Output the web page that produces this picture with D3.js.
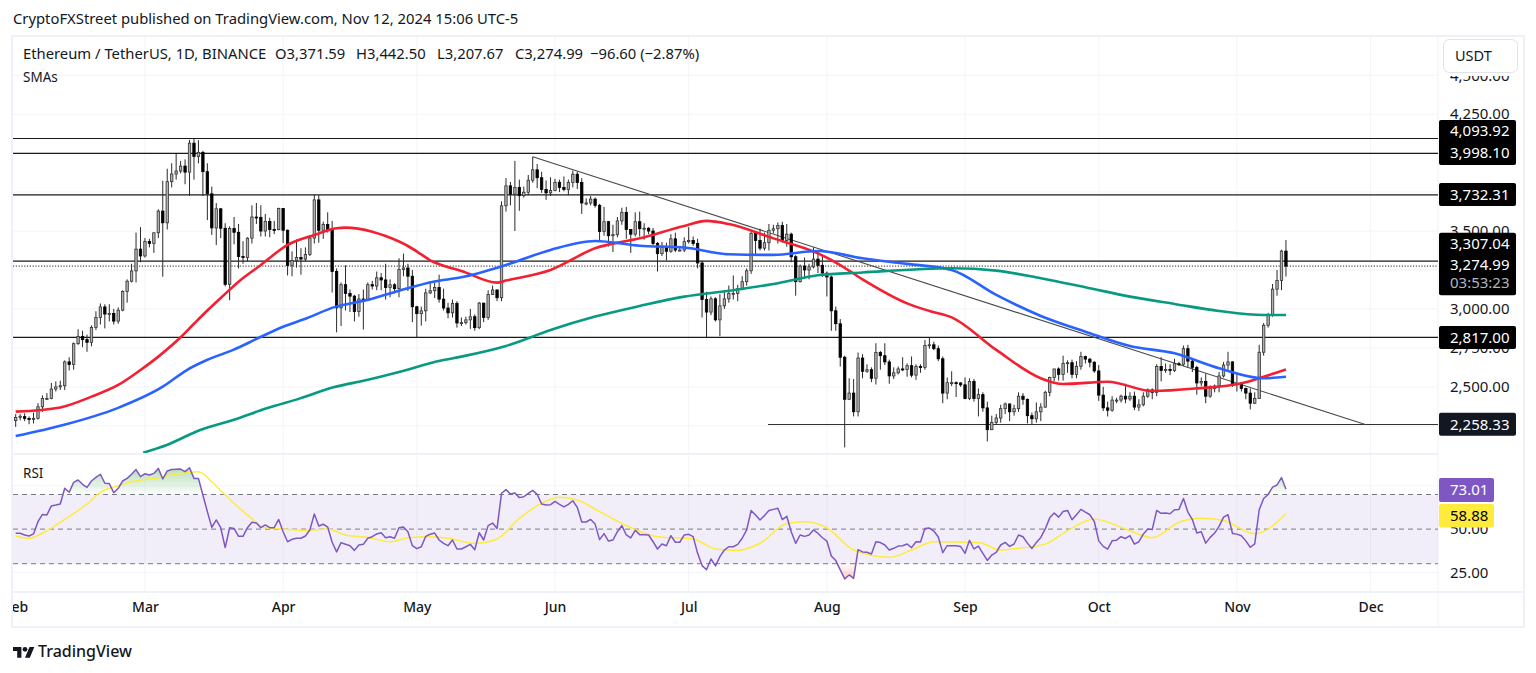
<!DOCTYPE html>
<html><head><meta charset="utf-8">
<style>html,body{margin:0;padding:0;background:#fff;overflow:hidden}svg{display:block}
text{font-family:"Noto Sans",sans-serif;fill:#131722}</style>
<script src="https://cdn.jsdelivr.net/npm/d3@7/dist/d3.min.js"></script></head><body>
<svg id="c" width="1536" height="673"></svg>
<script>
const months=["Feb","Mar","Apr","May","Jun","Jul","Aug","Sep","Oct","Nov","Dec"];
const opens=[2283,2304,2309,2297,2290,2298,2372,2425,2425,2486,2500,2507,2660,2643,2777,2824,2803,2786,2881,2945,3013,2967,2971,2922,2992,3112,3178,3244,3384,
3340,3433,3421,3489,3628,3553,3817,3866,3885,3917,3878,4064,3979,4005,3881,3739,3520,3643,3518,3158,3516,3492,3336,3330,3454,3590,3588,3500,3561,3510,3509,
3645,3505,3280,3311,3330,3320,3350,3455,3700,3505,3542,3505,3240,3007,3156,3100,3082,2984,3064,3057,3156,3147,3200,3186,3137,3155,3130,3253,3263,3210,
3014,2970,2988,3103,3117,3137,3063,3006,2975,3036,2910,2912,2930,2950,2880,3037,2945,3093,3122,3072,3662,3790,3737,3780,3727,3749,3826,3893,3842,3767,3745,
3760,3813,3780,3767,3811,3865,3811,3680,3680,3705,3665,3497,3560,3470,3477,3565,3620,3510,3480,3560,3515,3518,3500,3420,3355,3395,3370,3450,3378,3378,
3432,3440,3420,3295,3060,2980,3065,2930,3020,3065,3100,3100,3130,3175,3245,3485,3440,3390,3425,3505,3515,3535,3440,3480,3335,3175,3275,3250,3270,3320,3280,
3230,3205,2988,2905,2690,2420,2460,2340,2685,2600,2610,2555,2720,2700,2660,2570,2590,2615,2612,2636,2575,2630,2625,2765,2770,2745,2680,2460,2527,2527,2525,
2513,2425,2535,2425,2450,2365,2225,2272,2300,2360,2390,2340,2360,2440,2420,2315,2295,2340,2370,2465,2560,2615,2580,2650,2655,2580,2632,2695,2678,2658,
2602,2447,2365,2350,2415,2415,2440,2422,2440,2370,2385,2440,2480,2465,2630,2605,2612,2605,2648,2645,2745,2665,2625,2525,2535,2440,2490,2505,2570,2640,2660,
2520,2515,2490,2460,2395,2425,2722,2895,2962,3127,3183,3371.59];
const highs=[2325,2325,2330,2310,2335,2395,2445,2460,2525,2535,2540,2670,2690,2785,2870,2860,2835,2895,2985,3035,3030,3030,3000,3010,3120,3190,3290,3490,3525,
3455,3450,3490,3640,3823,3900,3935,3995,3950,3960,4085,4093,4083,4015,3935,3785,3680,3645,3550,3530,3590,3545,3435,3460,3665,3680,3665,3610,3585,3565,3650,
3645,3510,3370,3445,3390,3395,3475,3732,3730,3560,3620,3565,3260,3170,3280,3125,3090,3095,3125,3170,3180,3240,3230,3290,3190,3165,3325,3355,3290,3250,
3020,3015,3130,3170,3170,3220,3130,3040,3060,3050,2945,2950,3000,2965,3045,3040,3120,3150,3125,3690,3840,3815,3950,3830,3785,3860,3977,3930,3880,3825,3845,
3835,3830,3850,3830,3888,3880,3840,3710,3725,3715,3675,3655,3565,3540,3590,3650,3655,3510,3620,3625,3550,3525,3520,3430,3430,3425,3480,3490,3405,3460,
3525,3465,3450,3310,3110,3080,3075,3095,3120,3150,3215,3155,3210,3260,3495,3500,3515,3490,3545,3540,3555,3560,3545,3490,3345,3285,3330,3290,3395,3365,3350,
3240,3215,3015,2935,2700,2555,2550,2720,2710,2645,2625,2780,2730,2780,2675,2625,2630,2690,2650,2695,2645,2645,2800,2820,2790,2765,2695,2560,2600,2535,2530,
2560,2555,2550,2490,2465,2405,2315,2325,2385,2400,2395,2385,2465,2460,2425,2335,2400,2395,2475,2565,2615,2625,2700,2670,2675,2665,2725,2700,2685,2665,
2640,2500,2405,2440,2430,2450,2520,2465,2470,2420,2465,2490,2490,2645,2690,2650,2645,2680,2660,2765,2770,2680,2635,2560,2585,2510,2515,2595,2660,2725,2665,
2590,2520,2495,2490,2465,2770,2910,2975,3160,3250,3380,3442.5];
const lows=[2243,2285,2280,2260,2265,2290,2340,2420,2420,2470,2480,2480,2605,2610,2770,2755,2725,2760,2865,2900,2875,2920,2900,2905,2985,3040,3170,3170,3300,
3330,3395,3360,3455,3207,3510,3780,3830,3870,3800,3725,3830,3935,3725,3570,3475,3410,3455,3145,3056,3415,3260,3290,3305,3420,3545,3465,3465,3460,3480,3505,
3423,3215,3210,3265,3220,3305,3340,3420,3425,3450,3490,3105,2850,2890,2990,2980,2920,2950,2868,3050,3125,3120,3120,3060,3075,3100,3075,3210,3115,2915,
2817,2893,2920,3095,3070,3040,2990,2940,2945,2880,2890,2900,2872,2860,2870,2915,2930,3090,3050,3050,3625,3665,3500,3630,3715,3730,3810,3775,3745,3700,3725,
3755,3750,3755,3730,3780,3770,3610,3665,3665,3650,3435,3470,3400,3365,3460,3540,3450,3360,3465,3465,3445,3480,3410,3240,3340,3310,3360,3365,3370,3365,
3420,3405,3260,2945,2817,2960,2920,2825,3000,3040,3060,3050,3120,3150,3225,3350,3375,3375,3375,3485,3420,3425,3400,3300,3085,3170,3195,3190,3260,3230,3205,
3080,2860,2860,2630,2111,2415,2310,2310,2555,2590,2530,2515,2610,2640,2520,2550,2580,2600,2565,2560,2545,2590,2610,2745,2735,2665,2395,2420,2505,2435,2500,
2420,2415,2405,2310,2340,2150,2225,2255,2270,2325,2280,2315,2340,2385,2265,2260,2270,2280,2365,2440,2535,2540,2540,2590,2555,2555,2610,2650,2625,2590,
2410,2345,2310,2340,2395,2400,2395,2410,2350,2345,2375,2430,2420,2440,2535,2590,2575,2595,2635,2635,2625,2595,2450,2505,2395,2430,2465,2465,2560,2610,2500,
2470,2470,2420,2355,2390,2425,2700,2880,2950,3085,3120,3207.67];
const closes=[2304,2311,2297,2290,2298,2372,2425,2425,2486,2500,2507,2660,2643,2777,2824,2803,2786,2881,2945,3013,2967,2971,2922,2992,3112,3178,3244,3384,3340,
3433,3421,3489,3628,3553,3817,3866,3885,3917,3878,4064,3979,4005,3881,3739,3520,3643,3518,3158,3516,3492,3336,3330,3454,3590,3588,3500,3561,3510,3509,3645,
3505,3280,3311,3330,3320,3350,3455,3700,3505,3542,3505,3240,3007,3156,3100,3082,2984,3064,3057,3156,3147,3200,3186,3137,3155,3130,3253,3263,3210,3014,
2970,2988,3103,3117,3137,3063,3006,2975,3036,2910,2912,2930,2950,2880,3037,2945,3093,3122,3072,3662,3790,3737,3780,3727,3749,3826,3893,3842,3767,3745,3760,
3813,3780,3767,3811,3865,3811,3680,3680,3705,3665,3497,3560,3470,3477,3565,3620,3510,3480,3560,3515,3518,3500,3420,3355,3395,3370,3450,3378,3378,3432,
3440,3420,3295,3060,2980,3065,2930,3020,3065,3100,3100,3130,3175,3245,3485,3440,3390,3425,3505,3515,3535,3440,3480,3335,3175,3275,3250,3270,3320,3280,3230,
3205,2988,2905,2690,2420,2460,2340,2685,2600,2610,2555,2720,2700,2660,2570,2590,2615,2612,2636,2575,2630,2625,2765,2770,2745,2680,2460,2527,2527,2525,2513,
2425,2535,2425,2450,2365,2225,2272,2300,2360,2390,2340,2360,2440,2420,2315,2295,2340,2370,2465,2560,2615,2580,2650,2655,2580,2632,2695,2678,2658,2602,
2447,2365,2350,2415,2415,2440,2422,2440,2370,2385,2440,2480,2465,2630,2605,2612,2605,2648,2645,2745,2665,2625,2525,2535,2440,2490,2505,2570,2640,2660,2520,
2515,2490,2460,2395,2425,2722,2895,2962,3127,3183,3371,3274.99];
// moving averages read at selected days (day number counted from Feb 1)
const redDays=[0,10,17,23,28,32,37,40,43,46,50,55,61,67,72,74,80,83,88,91,93,95.5,100,108,110,120,130,140,150,155,160,170,180,185,190,200,205,210,220,230,235,245,255,265,275,280,285];
const redVals=[2341,2368,2437,2512,2608,2694,2818,2905,2990,3070,3175,3282,3411,3475,3518,3522,3496,3468,3404,3350,3312,3282,3244,3169,3182,3250,3389,3453,3533,3565,3545,3453,3357,3282,3190,3036,2987,2946,2737,2555,2518,2533,2473,2490,2523,2565,2612];
const blueDays=[0,10.7,22.7,33,38.4,42.9,48.8,54.8,60,65.3,71.3,78.8,86,93.7,100,110,120,130,140,150,160,170,180,190,200,210,220,230,240,250,260,270,280,285];
const blueVals=[2184,2255,2362,2501,2608,2672,2737,2818,2886,2940,3010,3057,3117,3175,3203,3282,3379,3436,3406,3394,3351,3347,3372,3325,3289,3250,3090,2955,2854,2762,2715,2619,2555,2565];
const greenDays=[28.6,33.9,41.4,48.8,56.3,63.8,71.3,78.8,86.2,95.2,100,110,120,130,140,150,160,170,180,190,210,220,230,240,250,260,270,280,285];
const greenVals=[2077,2127,2223,2287,2362,2426,2497,2544,2597,2668,2694,2762,2865,2951,3019,3079,3117,3160,3216,3234,3261,3246,3197,3139,3079,3032,2987,2961,2961];
const levels=[4093.92,3998.10,3732.31,3307.04,2817.00];
const supportLevel=2258.33, supportStartDay=168.8;
const trendDays=[116,302.8], trendVals=[3977,2258.33];
const lastPrice=3274.99;
const priceGrid=[4500,4250,4000,3750,3500,3250,3000,2750,2500,2250];
const priceLabels=[4500,4250,3500,3000,2750,2500];
const rsiGrid=[75,25];
const rsiLabels=[50,25];
const rsiBands=[70,50,30];
const rsiVals=[47.6,47.6,46.6,46,47.2,54.3,58.5,58.2,63.4,63.9,
64.5,73.6,71.3,77,78.4,75.9,74.1,77.8,79.9,81.7,
76.5,76.3,71,73.6,77.8,79.3,81.7,84.4,80.3,82,
81.3,82.2,85.1,79,83.6,84.4,84.6,84.7,83.2,85.5,79.3,
79.3,69.7,60.1,51,55.3,50.8,39.3,50.8,50.4,45.8,
45.8,50.8,53.9,53.5,50.8,52.4,50.8,50.8,55.6,48.5,
42.7,44.1,44.7,44.7,46,49.5,58.7,51.8,52.8,51.2,
42.4,36.8,42.2,41.2,40.4,37.7,40.8,41.2,44.7,45.6,
47.2,47.9,45,45.6,44.7,50.8,51.2,48.5,40.4,38.7,
39.8,45.8,47,47.7,43.7,41.8,40.4,43.7,38.5,38.5,
39.8,41.2,38.1,47.9,43.7,52,53.5,50.4,
70.7,72.8,70.3,70.9,68.2,68.7,70.7,72.4,70.1,64.5,
63.9,64.1,66,64.3,62.8,64.3,66.4,62.6,54.1,54.1,
55.6,52.9,43.9,47.4,43.1,43.7,48.5,52,46.6,44.9,
49.3,46.8,46.8,46.6,42.7,38.5,41.4,40.4,46.2,42.4,
42.4,46.6,47,45.6,36,28.9,26.5,32.7,28.7,34.1,
37.9,39.8,39.8,41.2,44.7,49.5,60.7,58.2,55.3,57.8,
60.7,61.4,62,55.5,57.4,48.5,41.8,46.6,45.8,46.6,
49.5,47.6,45,43.1,34.5,31.8,26.4,21.2,23.5,21.5,
38.1,36.8,36.6,35.6,42.7,42.2,40.8,37.9,38.9,40.2,
40.4,41.4,39.3,42.7,42.5,50.4,50.6,48.9,45.4,36.4,
40.4,40.4,40.4,40,36,43.5,38.5,40.2,36,31.9,
35,36.6,40.8,
42.3,40,41.4,46.6,45.6,41.9,38.8,42.3,45.2,50.1,
56.5,59.3,56.9,60.2,60.8,55.4,58.3,61.4,59.8,58.3,
54.4,43.2,40,38.4,43.2,43.6,45.6,44.6,46.2,41.3,
42.7,47.1,50.1,49.7,60.8,59.1,59.3,58.9,61.2,61.4,
67.7,59.8,55.5,47.7,48.5,41.9,45.2,47.7,51.6,56.9,
58.3,47.5,47.1,46.2,43.2,39.5,41.5,61.2,67.7,70,
74.3,75.5,79.8,73.01];
const rsiMaDays=[0,3,6,11,16,19,23,26,32,37,41,44,47,52,56,60,65,70,74,79,84,88,93,97,103,108,113,118,122,126,131,136,144,152,157,162,167,173,177,182,188,196,201,206,216,221,225,231,236,242,249,255,261,266,271,278,285];
const rsiMaVals=[46,44.7,47.6,55.6,64.5,71.3,75.1,77.4,79.7,82.2,83.2,77.4,69.7,58.2,50.8,50,49.3,50,46.6,45.2,42.7,45,45.6,44.7,41.8,44.3,56.2,64.9,68.4,66.8,60.1,53.3,45.6,44.3,38.5,37.7,41.8,53.3,54.3,50.8,37.9,33.7,37.9,42.7,42.3,37.9,38.9,41.3,49.1,55.9,50.1,45,54,56.3,55,47.3,58.88];

const headerText="CryptoFXStreet published on TradingView.com, Nov 12, 2024 15:06 UTC-5";
const legendSeg=[["Ethereum / TetherUS, 1D, BINANCE",23],["O3,371.59",275],["H3,442.50",356],["L3,207.67",437],["C3,274.99",515],["\u221296.60 (\u22122.87%)",590]];

const L=13,R=1438,MT=37,MB=453,RT=455,RB=592;
const day=i=>new Date(Date.UTC(2024,1,1)+i*864e5);
const x=d3.scaleUtc().domain([day(0),day(285)]).range([15.7,15.7+4.457*285]);
const y=d3.scaleLinear().domain([2258.33,4093.92]).range([424.5,138.5]);
const yr=d3.scaleLinear().domain([30,70]).range([563.7,494.5]);
const svg=d3.select("#c");
const defs=svg.append("defs");
defs.append("clipPath").attr("id","main").append("rect").attr("x",L).attr("y",MT).attr("width",R-L).attr("height",MB-MT);
defs.append("clipPath").attr("id","rsi").append("rect").attr("x",L).attr("y",RT).attr("width",R-L).attr("height",RB-RT);
defs.append("clipPath").attr("id","ob").append("rect").attr("x",L).attr("y",RT).attr("width",R-L).attr("height",yr(70)-RT);
defs.append("clipPath").attr("id","os").append("rect").attr("x",L).attr("y",yr(30)).attr("width",R-L).attr("height",RB-yr(30));
const g1=defs.append("linearGradient").attr("id","gOb").attr("gradientUnits","userSpaceOnUse").attr("x1",0).attr("x2",0).attr("y1",yr(86)).attr("y2",yr(70));
g1.append("stop").attr("offset",0).attr("stop-color","#4caf50").attr("stop-opacity",.42);
g1.append("stop").attr("offset",1).attr("stop-color","#4caf50").attr("stop-opacity",.02);
const g2=defs.append("linearGradient").attr("id","gOs").attr("gradientUnits","userSpaceOnUse").attr("x1",0).attr("x2",0).attr("y1",yr(30)).attr("y2",yr(20));
g2.append("stop").attr("offset",0).attr("stop-color","#f44336").attr("stop-opacity",.02);
g2.append("stop").attr("offset",1).attr("stop-color","#f44336").attr("stop-opacity",.32);

// frame
const grid="#f3f4f9", frame="#eff1f8";
const monthTicks=months.map((m,k)=>new Date(Date.UTC(2024,1+k,1)));
svg.append("rect").attr("x",12).attr("y",36).attr("width",1512).attr("height",591).attr("fill","#fff").attr("stroke",frame).attr("stroke-width",2);
// grid
svg.append("g").selectAll("line").data(monthTicks.slice(1)).join("line")
 .attr("x1",d=>x(d)).attr("x2",d=>x(d)).attr("y1",MT).attr("y2",RB).attr("stroke",grid);
svg.append("g").selectAll("line").data(priceGrid).join("line")
 .attr("x1",L).attr("x2",R).attr("y1",d=>y(d)).attr("y2",d=>y(d)).attr("stroke",grid);
svg.append("g").selectAll("line").data(rsiGrid).join("line")
 .attr("x1",L).attr("x2",R).attr("y1",d=>yr(d)).attr("y2",d=>yr(d)).attr("stroke",grid);
// separators
[[L,1438,MB+1,MB+1],[L,1524,RB,RB],[R,R,MT,627]].forEach(s=>svg.append("line").attr("x1",s[0]).attr("x2",s[1]).attr("y1",s[2]).attr("y2",s[3]).attr("stroke",frame).attr("stroke-width",s[0]===R?1:2));

// main pane
const main=svg.append("g").attr("clip-path","url(#main)");
main.selectAll("line.lev").data(levels).join("line").attr("class","lev")
 .attr("x1",L).attr("x2",R).attr("y1",d=>y(d)).attr("y2",d=>y(d)).attr("stroke","#1a1a1a").attr("stroke-width",1.2);
main.append("line").attr("x1",x(day(supportStartDay))).attr("x2",R).attr("y1",y(supportLevel)).attr("y2",y(supportLevel)).attr("stroke","#333").attr("stroke-width",1.1);
main.append("line").attr("x1",L).attr("x2",R).attr("y1",y(lastPrice)).attr("y2",y(lastPrice)).attr("stroke","#222").attr("stroke-dasharray","1.2 1.6");
const trend=d3.line().x((d,i)=>x(day(trendDays[i]))).y(d=>y(d));
main.append("path").attr("d",trend(trendVals)).attr("fill","none").attr("stroke","#4a4a4a").attr("stroke-width",1.1);
const idx=d3.range(closes.length);
const cg=main.append("g");
cg.selectAll("line").data(idx).join("line")
 .attr("x1",i=>x(day(i))).attr("x2",i=>x(day(i))).attr("y1",i=>y(highs[i])).attr("y2",i=>y(lows[i])).attr("stroke","#2a2a2a").attr("stroke-width",1);
cg.selectAll("rect").data(idx).join("rect")
 .attr("x",i=>x(day(i))-1.2).attr("width",2.4)
 .attr("y",i=>y(Math.max(opens[i],closes[i])))
 .attr("height",i=>Math.max(1,Math.abs(y(opens[i])-y(closes[i]))))
 .attr("fill",i=>closes[i]>=opens[i]?"#b0b0b0":"#000")
 .attr("stroke",i=>closes[i]>=opens[i]?"#333":"#000").attr("stroke-width",.8);
const curve=d3.curveMonotoneX;
[[redDays,redVals,"#f22030",2.6],[blueDays,blueVals,"#2962ff",2.6],[greenDays,greenVals,"#089981",2.6]].forEach(s=>{
 const ln=d3.line().x((d,i)=>x(day(s[0][i]))).y(d=>y(d)).curve(curve);
 main.append("path").attr("d",ln(s[1])).attr("fill","none").attr("stroke",s[2]).attr("stroke-width",s[3]).attr("stroke-linejoin","round");
});

// RSI pane
const rp=svg.append("g").attr("clip-path","url(#rsi)");
rp.append("rect").attr("x",L).attr("width",R-L).attr("y",yr(70)).attr("height",yr(30)-yr(70)).attr("fill","#7e57c2").attr("opacity",.1);
rp.selectAll("line").data(rsiBands).join("line").attr("x1",L).attr("x2",R).attr("y1",d=>yr(d)).attr("y2",d=>yr(d))
 .attr("stroke","#787b86").attr("stroke-dasharray","5 4").attr("stroke-width",1);
const lineR=d3.line().x((d,i)=>x(day(i))).y(d=>yr(d));
const areaOb=d3.area().x((d,i)=>x(day(i))).y0(yr(70)).y1(d=>yr(d));
const areaOs=d3.area().x((d,i)=>x(day(i))).y0(yr(30)).y1(d=>yr(d));
rp.append("g").attr("clip-path","url(#ob)").append("path").attr("d",areaOb(rsiVals)).attr("fill","url(#gOb)");
rp.append("g").attr("clip-path","url(#os)").append("path").attr("d",areaOs(rsiVals)).attr("fill","url(#gOs)");
const lineM=d3.line().x((d,i)=>x(day(rsiMaDays[i]))).y(d=>yr(d)).curve(curve);
rp.append("path").attr("d",lineM(rsiMaVals)).attr("fill","none").attr("stroke","#ffeb3b").attr("stroke-width",1.5);
rp.append("path").attr("d",lineR(rsiVals)).attr("fill","none").attr("stroke","#7e57c2").attr("stroke-width",1.5).attr("stroke-linejoin","round");

// axes
const fmt=d3.format(",.2f");
const ap=svg.append("g").attr("transform",`translate(${R},0)`).call(d3.axisRight(y).tickValues(priceLabels).tickFormat(fmt).tickSize(0).tickPadding(12));
const ar=svg.append("g").attr("transform",`translate(${R},0)`).call(d3.axisRight(yr).tickValues(rsiLabels).tickFormat(fmt).tickSize(0).tickPadding(12));
const at=svg.append("g").attr("transform",`translate(0,${RB})`).call(d3.axisBottom(x).tickValues(monthTicks).tickFormat((d,i)=>months[i]).tickSize(0).tickPadding(10));
[ap,ar,at].forEach(a=>{a.select(".domain").remove();a.selectAll("text").attr("font-size",15).style("font-family",'"Noto Sans",sans-serif').style("fill","#131722");});
at.selectAll("text").attr("font-size",14).attr("font-weight",500);
// hide tick ends outside frame
svg.append("rect").attr("x",0).attr("y",580).attr("width",11).attr("height",50).attr("fill","#fff");
svg.append("line").attr("x1",12).attr("x2",12).attr("y1",36).attr("y2",627).attr("stroke",frame).attr("stroke-width",2);

// tags
function tag(y0,h,w,fill){svg.append("rect").attr("x",1439).attr("y",y0).attr("width",w).attr("height",h).attr("rx",2).attr("fill",fill);}
function tagText(t,yc,col){svg.append("text").attr("x",1450).attr("y",yc).attr("dy","0.36em").attr("font-size",15).style("fill",col).text(t);}
tag(120,45,77,"#000");tag(183,23,77,"#000");tag(232.7,62.5,77,"#000");tag(326,23,77,"#000");tag(412.7,23,77,"#131722");
tagText("4,093.92",130.7,"#fff");tagText("3,998.10",153,"#fff");tagText("3,732.31",194.5,"#fff");
tagText("3,307.04",244,"#fff");tagText("3,274.99",265,"#fff");tagText("03:53:23",283,"#b2b5be");
tagText("2,817.00",337.5,"#fff");tagText("2,258.33",424.5,"#fff");
tag(478,24,55,"#7e57c2");tag(504,23.5,55,"#ffeb3b");
tagText("73.01",490,"#fff");tagText("58.88",515.5,"#000");

// usdt button, covering the top of the 4,500 label
svg.append("rect").attr("x",1440).attr("y",37).attr("width",82).attr("height",39).attr("fill","#fff");
svg.append("rect").attr("x",1443.5).attr("y",39.5).attr("width",74).attr("height",33).attr("rx",6).attr("fill","#fff").attr("stroke","#e0e3eb");
svg.append("text").attr("x",1455).attr("y",56).attr("dy","0.36em").attr("font-size",14.5).text("USDT");

// text
svg.append("text").attr("x",13).attr("y",19).attr("dy","0.36em").attr("font-size",14.8).text(headerText);
legendSeg.forEach(s=>svg.append("text").attr("x",s[1]).attr("y",54).attr("dy","0.36em").attr("font-size",14.8).text(s[0]));
svg.append("text").attr("x",23).attr("y",77).attr("dy","0.36em").attr("font-size",13.5).text("SMAs");
svg.append("text").attr("x",23).attr("y",473).attr("dy","0.36em").attr("font-size",13.5).text("RSI");
const logo=svg.append("g").attr("transform","translate(13,644.5) scale(0.6)").attr("fill","#131722");
logo.append("path").attr("d","M14 22H7V11H0V4h14v18zM28 22h-8l7.5-18h8L28 22z");
logo.append("circle").attr("cx",20).attr("cy",8).attr("r",4);
svg.append("text").attr("x",38).attr("y",651).attr("dy","0.36em").attr("font-size",16).attr("font-weight",500).text("TradingView");
</script></body></html>
